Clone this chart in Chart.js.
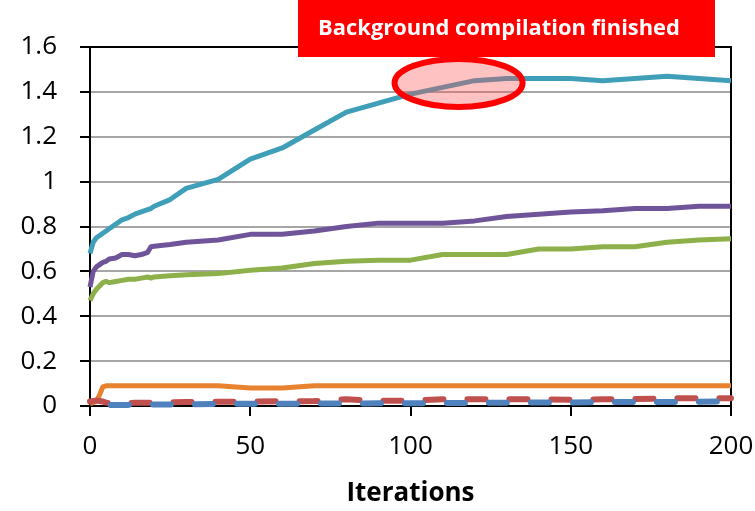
<!DOCTYPE html>
<html>
<head>
<meta charset="utf-8">
<script src="https://cdn.jsdelivr.net/npm/chart.js@4"></script>
<style>
  html, body { margin: 0; padding: 0; background: #fff; }
  #wrap { width: 755px; height: 511px; }
</style>
</head>
<body>
<div id="wrap"><canvas id="chart"></canvas></div>
<script>
// iterations (x) shared by all series
const iterations = [0,1,2,3,4,5,6,8,10,12,14,16,18,19,20,25,30,40,50,60,70,80,90,100,110,120,130,140,150,160,170,180,190,200];

const tealSeries   = [0.68,0.73,0.75,0.76,0.77,0.78,0.79,0.81,0.83,0.84,0.855,0.865,0.875,0.88,0.89,0.92,0.97,1.01,1.10,1.15,1.23,1.31,1.35,1.39,1.42,1.45,1.46,1.46,1.46,1.45,1.46,1.47,1.46,1.45];
const purpleSeries = [0.53,0.60,0.62,0.63,0.64,0.645,0.655,0.66,0.675,0.675,0.67,0.675,0.685,0.71,0.712,0.72,0.73,0.74,0.765,0.765,0.78,0.80,0.815,0.815,0.815,0.825,0.845,0.855,0.865,0.87,0.88,0.88,0.89,0.89];
const greenSeries  = [0.47,0.50,0.52,0.535,0.55,0.555,0.55,0.555,0.56,0.565,0.565,0.57,0.575,0.57,0.575,0.58,0.585,0.59,0.605,0.615,0.635,0.645,0.65,0.65,0.675,0.675,0.675,0.70,0.70,0.71,0.71,0.73,0.74,0.745];
const orangeSeries = [0.01,0.015,0.02,0.05,0.085,0.09,0.09,0.09,0.09,0.09,0.09,0.09,0.09,0.09,0.09,0.09,0.09,0.09,0.08,0.08,0.09,0.09,0.09,0.09,0.09,0.09,0.09,0.09,0.09,0.09,0.09,0.09,0.09,0.09];
const redSeries    = [0.02,0.022,0.025,0.022,0.02,0.015,0.013,0.013,0.013,0.013,0.014,0.014,0.015,0.015,0.015,0.016,0.018,0.019,0.02,0.021,0.022,0.03,0.023,0.023,0.03,0.03,0.03,0.03,0.028,0.03,0.031,0.034,0.034,0.035];
const blueSeries   = [0.008,0.005,0.004,0.004,0.004,0.004,0.004,0.005,0.005,0.005,0.006,0.006,0.006,0.007,0.007,0.007,0.008,0.009,0.01,0.01,0.011,0.011,0.012,0.012,0.013,0.014,0.015,0.016,0.016,0.017,0.018,0.018,0.019,0.02];

const yTicks = [0,0.2,0.4,0.6,0.8,1,1.2,1.4,1.6];
const xTicks = [0,50,100,150,200];

const bannerText = 'Background compilation finished';
const highlightAt = {x: 115, y: 1.44};

function pts(ys){ return iterations.map((x,i)=>({x, y: ys[i]})); }
function line(ys, color, dash, offset){
  return {data: pts(ys), borderColor: color, borderWidth: dash ? 6 : 5, pointRadius: 0, tension: 0, clip: false,
    borderDash: dash || [], borderDashOffset: offset || 0, borderCapStyle: dash ? 'round' : 'butt',
    borderJoinStyle: 'round', fill: false};
}

const FONT = '"Open Sans", sans-serif';

// box round the plot under the lines, then red ellipse and banner on top
const overlay = {
  id: 'overlay',
  beforeDatasetsDraw(chart){
    const c = chart.ctx, a = chart.chartArea;
    c.save();
    c.strokeStyle = '#000'; c.lineWidth = 2;
    c.strokeRect(a.left, a.top, a.right - a.left, a.bottom - a.top);
    c.restore();
  },
  afterDatasetsDraw(chart){
    const c = chart.ctx;
    c.save();
    const xs = chart.scales.x, ys = chart.scales.y;
    const cx = xs.getPixelForValue(highlightAt.x), cy = ys.getPixelForValue(highlightAt.y);
    c.beginPath();
    c.ellipse(cx, cy, 64, 24, 0, 0, Math.PI*2);
    c.fillStyle = 'rgba(255,80,80,0.35)';
    c.fill();
    c.lineWidth = 6; c.strokeStyle = '#ff0000';
    c.stroke();
    c.fillStyle = '#ff0000';
    c.fillRect(298, 0, 417, 57);
    c.fillStyle = '#fff';
    c.font = 'bold 20px ' + FONT;
    const w = c.measureText(bannerText).width;
    c.font = 'bold ' + (20 * 362 / w).toFixed(1) + 'px ' + FONT;
    c.textAlign = 'center'; c.textBaseline = 'middle';
    c.fillText(bannerText, 499, 29);
    c.restore();
  }
};

new Chart(document.getElementById('chart'), {
  type: 'line',
  data: {
    datasets: [
      line(blueSeries, '#4f81bd', [18, 24], 21),
      line(redSeries, '#c0504d', [18, 24]),
      line(orangeSeries, '#e8822f'),
      line(greenSeries, '#8db04a'),
      line(purpleSeries, '#6f5499'),
      line(tealSeries, '#3f9fb8')
    ]
  },
  options: {
    responsive: true,
    maintainAspectRatio: false,
    animation: false,
    layout: {padding: {top: 47, right: 0, left: 0, bottom: 0}},
    plugins: {legend: {display: false}, tooltip: {enabled: false}},
    scales: {
      x: {
        type: 'linear', min: 0, max: 200,
        afterBuildTicks(s){ s.ticks = xTicks.map(v=>({value: v})); },
        afterFit(s){ s.height = 105; s.paddingRight = 24; s.paddingLeft = 0; },
        border: {display: true, color: '#000', width: 2},
        grid: {drawOnChartArea: false, drawTicks: true, tickLength: 10, tickColor: '#000', lineWidth: 2},
        ticks: {color: '#000', font: {family: FONT, size: 26}, padding: 15, maxRotation: 0},
        title: {display: true, text: 'Iterations', color: '#000', font: {family: FONT, size: 26, weight: 'bold'}, padding: {top: 4, bottom: 2}}
      },
      y: {
        min: 0, max: 1.6,
        afterBuildTicks(s){ s.ticks = yTicks.map(v=>({value: v})); },
        afterFit(s){ s.width = 90; },
        border: {display: true, color: '#000', width: 2},
        grid: {color: '#a6a6a6', lineWidth: 2, tickColor: '#000', tickLength: 10},
        ticks: {color: '#000', font: {family: FONT, size: 26}, padding: 23, callback: v => String(v)}
      }
    }
  },
  plugins: [overlay]
});
</script>
</body>
</html>
